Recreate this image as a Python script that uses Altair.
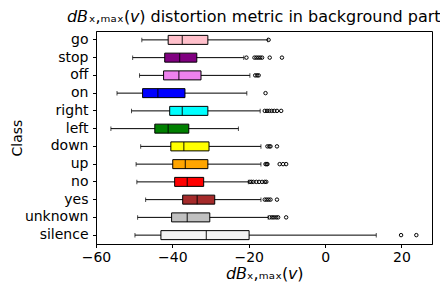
import altair as alt
import pandas as pd

classes = ["go", "stop", "off", "on", "right", "left", "down", "up", "no", "yes", "unknown", "silence"]
colors = ["#FFC0CB", "#800080", "#EE82EE", "#0000FF", "#00FFFF", "#008000",
          "#FFFF00", "#FFA500", "#FF0000", "#A52A2A", "#C0C0C0", "#F5F5F5"]

whislo = [-48.0, -50.4, -48.6, -54.5, -50.7, -56.1, -48.3, -49.5, -49.3, -47.0, -49.1, -49.8]
q1 = [-41.1, -42.0, -42.3, -47.8, -40.7, -44.6, -40.4, -39.9, -39.4, -37.3, -40.2, -43.0]
med = [-37.4, -38.1, -38.3, -43.8, -37.4, -41.1, -37.0, -36.6, -36.1, -33.5, -36.1, -31.1]
q3 = [-30.7, -33.6, -32.5, -36.7, -30.7, -35.7, -30.4, -30.7, -31.8, -28.9, -30.2, -19.9]
whishi = [-15.0, -21.3, -19.7, -20.5, -17.0, -22.7, -16.8, -16.8, -20.1, -16.8, -14.9, 13.4]

fliers = {
    "go": [-14.8],
    "stop": [-20.6, -18.5, -18.0, -17.5, -17.0, -16.5, -14.5, -11.3],
    "off": [-18.3, -17.8, -17.4],
    "on": [-15.6],
    "right": [-15.8, -15.2, -14.6, -14.0, -13.3, -12.6, -11.5],
    "left": [],
    "down": [-15.1, -14.6, -14.3, -12.6],
    "up": [-15.6, -15.3, -15.1, -11.9, -11.0, -10.2],
    "no": [-19.7, -19.3, -18.8, -18.0, -17.3, -16.5, -15.8, -15.4],
    "yes": [-15.8, -15.3, -14.8, -14.3, -12.6],
    "unknown": [-14.5, -13.9, -13.4, -12.8, -12.3, -10.2],
    "silence": [19.9, 23.9],
}

x_ticks = [-60, -40, -20, 0, 20]

box_df = pd.DataFrame({"cls": classes, "color": colors, "lo": whislo, "q1": q1,
                       "med": med, "q3": q3, "hi": whishi})
fl_df = pd.DataFrame([{"cls": c, "v": v} for c in classes for v in fliers[c]])

math_lbl = "\U0001D625\U0001D609\u2093,\u2098\u2090\u2093(\U0001D637)"

xscale = alt.Scale(domain=[-60, 28], nice=False, zero=False)
yscale = alt.Scale(domain=classes, paddingInner=0, paddingOuter=0)
X = lambda f, **k: alt.X(f, type="quantitative", scale=xscale,
                         axis=alt.Axis(values=x_ticks, title=math_lbl, grid=False,
                                       labelFlush=False), **k)
Y = alt.Y("cls:N", scale=yscale, sort=classes, title="Class")

base = alt.Chart(box_df)
whisk = base.mark_rule(color="black", strokeWidth=1).encode(x=X("lo"), x2="hi", y=Y)
box = base.mark_bar(size=9, stroke="black", strokeWidth=1).encode(
    x=X("q1"), x2="q3", y=Y,
    color=alt.Color("color:N", scale=None))
median = base.mark_tick(color="black", size=9, thickness=1.3).encode(x=X("med"), y=Y)
cap_lo = base.mark_tick(color="black", size=4.5, thickness=1).encode(x=X("lo"), y=Y)
cap_hi = base.mark_tick(color="black", size=4.5, thickness=1).encode(x=X("hi"), y=Y)
pts = alt.Chart(fl_df).mark_point(shape="circle", filled=False, color="black",
                                   size=12, strokeWidth=1, opacity=1).encode(x=X("v"), y=Y)

chart = alt.layer(whisk, box, median, cap_lo, cap_hi, pts).properties(
    width=336, height=213,
    title=alt.TitleParams(math_lbl + " distortion metric in background part",
                          fontSize=16, font="DejaVu Sans", fontWeight="normal",
                          color="black", frame="group", anchor="middle", offset=6, dx=-10),
    autosize=alt.AutoSizeParams(type="none"),
    padding={"left": 88, "top": 23, "right": 8, "bottom": 38},
).configure_view(stroke="black", strokeWidth=1).configure_axis(
    labelFont="DejaVu Sans", labelFontSize=14, labelColor="black",
    titleFont="DejaVu Sans", titleFontWeight="normal", titleColor="black",
    tickColor="black", domainColor="black", tickSize=3.5,
).configure_axisX(titleFontSize=16, titlePadding=1, labelPadding=3).configure_axisY(
    titleFontSize=14, titlePadding=0, labelPadding=4.5)

chart.save("out.html", embed_options={"renderer": "svg", "actions": False})
